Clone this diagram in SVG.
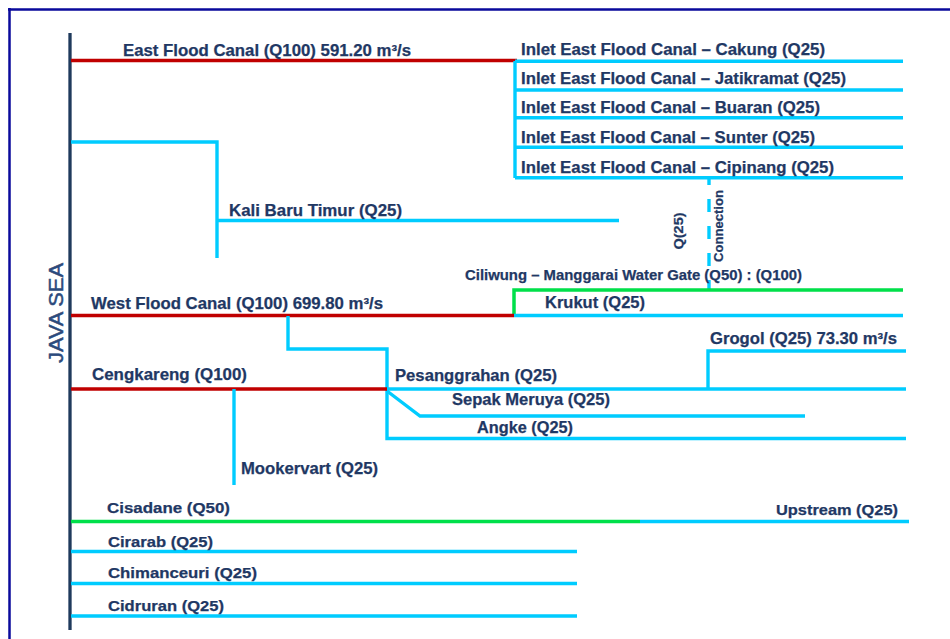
<svg xmlns="http://www.w3.org/2000/svg" width="950" height="639" viewBox="0 0 950 639">
<style>
.fr{stroke:#0a0a9c;stroke-width:2.5;fill:none}
.sea{stroke:#1f3a5c;stroke-width:3.3;fill:none}
.r{stroke:#c00000;stroke-width:3.5;fill:none}
.c{stroke:#00ccff;stroke-width:3.4;fill:none;stroke-linejoin:miter}
.g{stroke:#00e04a;stroke-width:3.5;fill:none}
.d{stroke:#00ccff;stroke-width:3.4;fill:none;stroke-dasharray:13 14;stroke-dashoffset:6}
text{font-family:"Liberation Sans",Arial,sans-serif;fill:#1f3864;font-weight:bold;stroke:#1f3864;stroke-width:0.25}
.l{font-size:16.5px}
.s{font-size:15px}
.v{font-size:12.5px}
.js{font-size:21px;font-weight:normal;fill:#2b4a7c;stroke:#2b4a7c;stroke-width:0.5}
</style>
<rect width="950" height="639" fill="#fff"/>
<g id="frame">
<path class="fr" d="M8 9.5H950M9.5 8V639"/>
</g>
<g id="java-sea">
<path class="sea" d="M70 33V630"/>
<text class="js" transform="translate(63,313) rotate(-90)" text-anchor="middle" textLength="100" lengthAdjust="spacingAndGlyphs">JAVA SEA</text>
</g>
<g id="connectors">
<path class="r" d="M71 60.5H517"/>
<path class="c" d="M515 61V178M515 61.3H903M515 90H903M515 117.7H903M515 147.3H903M515 177.7H903"/>
<path class="c" d="M71 142H217V258M217 220.5H619"/>
<path class="d" d="M709 178V290"/>
<path class="g" d="M514 316V290H903"/>
<path class="r" d="M71 315.5H514"/>
<path class="c" d="M514 315.5H903"/>
<path class="c" d="M288 316V349H387V438.5H906"/>
<path class="r" d="M71 389H387"/>
<path class="c" d="M387 389H906"/>
<path class="c" d="M708 389V351H906"/>
<path class="c" d="M387 391L420 416H805"/>
<path class="c" d="M234 389V485"/>
<path class="g" d="M71 521.5H640"/>
<path class="c" d="M640 521.5H909"/>
<path class="c" d="M71 551.5H577M71 583.5H577M71 616H577"/>
</g>
<g id="east-flood-canal"><text class="l" x="123" y="56" textLength="288" lengthAdjust="spacingAndGlyphs">East Flood Canal (Q100) 591.20 m³/s</text></g>
<g id="inlet-cakung"><text class="l" x="521" y="55" textLength="304" lengthAdjust="spacingAndGlyphs">Inlet East Flood Canal – Cakung (Q25)</text></g>
<g id="inlet-jatikramat"><text class="l" x="521" y="84" textLength="325" lengthAdjust="spacingAndGlyphs">Inlet East Flood Canal – Jatikramat (Q25)</text></g>
<g id="inlet-buaran"><text class="l" x="521" y="113" textLength="299" lengthAdjust="spacingAndGlyphs">Inlet East Flood Canal – Buaran (Q25)</text></g>
<g id="inlet-sunter"><text class="l" x="521" y="143" textLength="294" lengthAdjust="spacingAndGlyphs">Inlet East Flood Canal – Sunter (Q25)</text></g>
<g id="inlet-cipinang"><text class="l" x="521" y="173" textLength="313" lengthAdjust="spacingAndGlyphs">Inlet East Flood Canal – Cipinang (Q25)</text></g>
<g id="kali-baru-timur"><text class="l" x="229" y="216" textLength="173" lengthAdjust="spacingAndGlyphs">Kali Baru Timur (Q25)</text></g>
<g id="connection">
<text class="v" transform="translate(683,231) rotate(-90)" text-anchor="middle" textLength="37" lengthAdjust="spacingAndGlyphs">Q(25)</text>
<text class="v" transform="translate(723,226) rotate(-90)" text-anchor="middle" textLength="72" lengthAdjust="spacingAndGlyphs">Connection</text>
</g>
<g id="ciliwung"><text class="s" x="465" y="280" textLength="337" lengthAdjust="spacingAndGlyphs">Ciliwung – Manggarai  Water Gate (Q50) : (Q100)</text></g>
<g id="west-flood-canal"><text class="l" x="91" y="309" textLength="292" lengthAdjust="spacingAndGlyphs">West Flood Canal (Q100) 699.80 m³/s</text></g>
<g id="krukut"><text class="l" x="545" y="308" textLength="100" lengthAdjust="spacingAndGlyphs">Krukut (Q25)</text></g>
<g id="grogol"><text class="l" x="710" y="344" textLength="187" lengthAdjust="spacingAndGlyphs">Grogol (Q25) 73.30 m³/s</text></g>
<g id="cengkareng"><text class="l" x="92" y="380" textLength="155" lengthAdjust="spacingAndGlyphs">Cengkareng (Q100)</text></g>
<g id="pesanggrahan"><text class="l" x="395" y="381" textLength="162" lengthAdjust="spacingAndGlyphs">Pesanggrahan (Q25)</text></g>
<g id="sepak-meruya"><text class="l" x="452" y="405" textLength="158" lengthAdjust="spacingAndGlyphs">Sepak Meruya (Q25)</text></g>
<g id="angke"><text class="l" x="477" y="433" textLength="96" lengthAdjust="spacingAndGlyphs">Angke (Q25)</text></g>
<g id="mookervart"><text class="l" x="241" y="474" textLength="137" lengthAdjust="spacingAndGlyphs">Mookervart (Q25)</text></g>
<g id="cisadane"><text class="s" x="107" y="513" textLength="123" lengthAdjust="spacingAndGlyphs">Cisadane (Q50)</text></g>
<g id="upstream"><text class="s" x="776" y="515" textLength="122" lengthAdjust="spacingAndGlyphs">Upstream (Q25)</text></g>
<g id="cirarab"><text class="s" x="108" y="547" textLength="105" lengthAdjust="spacingAndGlyphs">Cirarab (Q25)</text></g>
<g id="chimanceuri"><text class="s" x="108" y="578" textLength="149" lengthAdjust="spacingAndGlyphs">Chimanceuri (Q25)</text></g>
<g id="cidruran"><text class="s" x="108" y="611" textLength="116" lengthAdjust="spacingAndGlyphs">Cidruran (Q25)</text></g>
</svg>
